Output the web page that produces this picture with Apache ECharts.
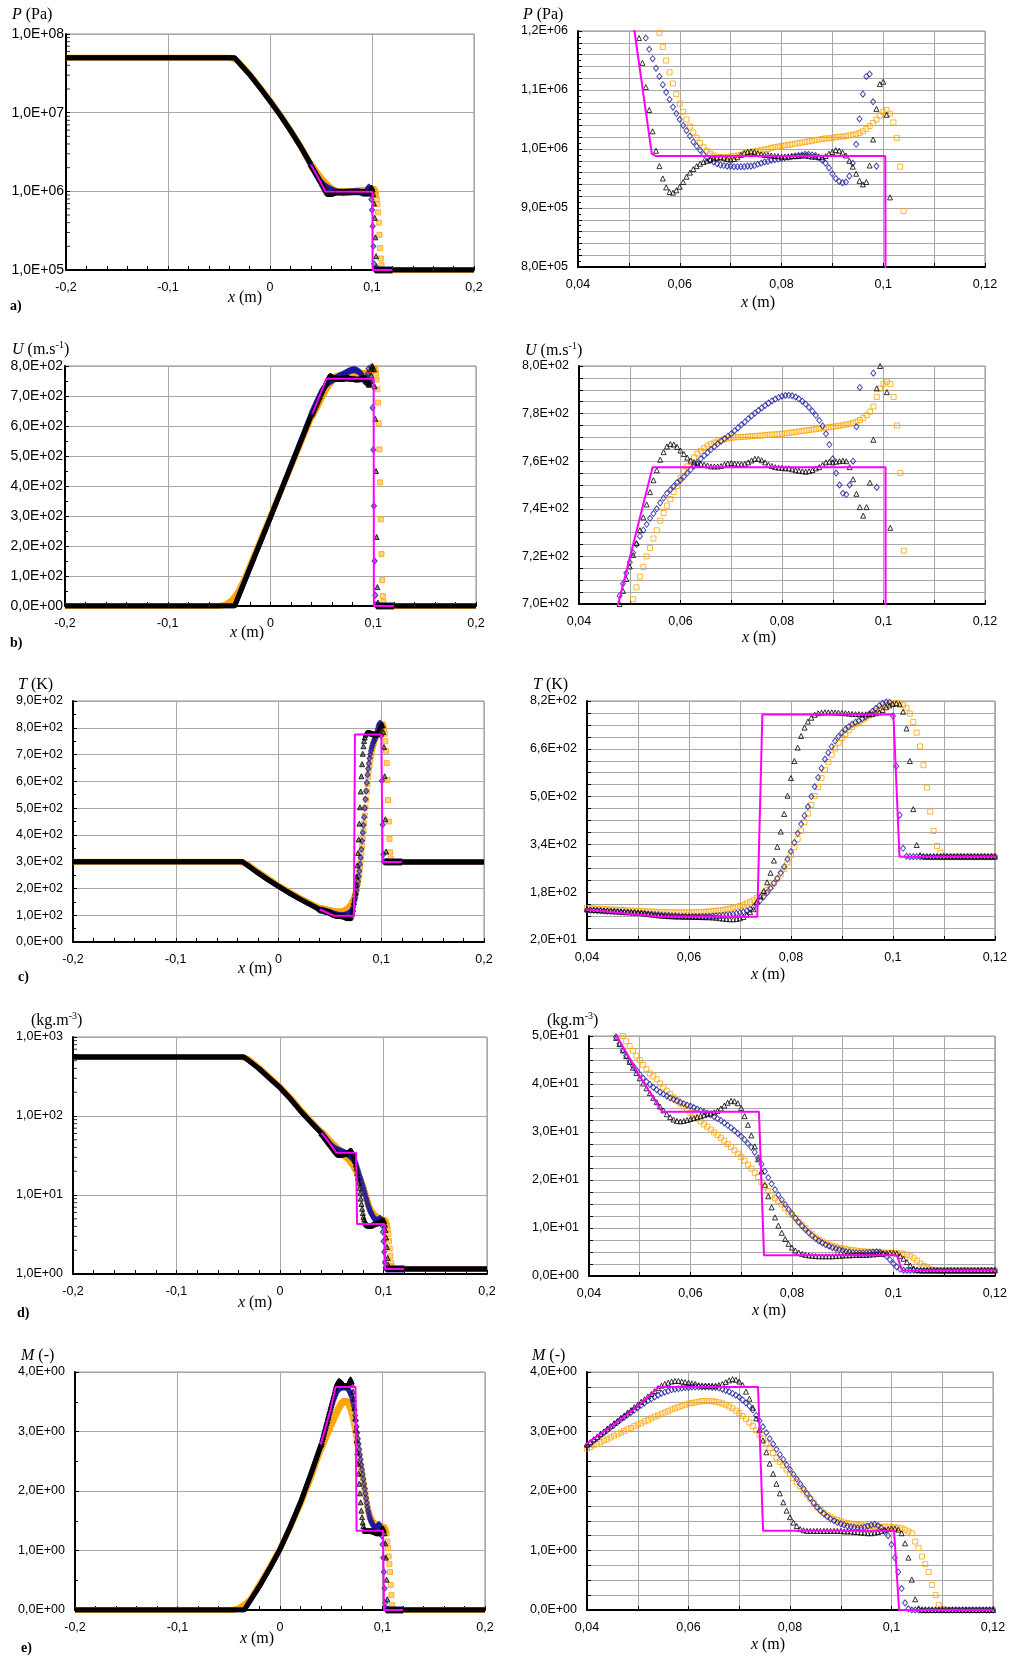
<!DOCTYPE html>
<html><head><meta charset="utf-8">
<script src="https://cdn.jsdelivr.net/npm/echarts@6/dist/echarts.min.js"></script>
<style>html,body{margin:0;padding:0;background:#fff}#c{width:1010px;height:1656px}</style>
</head><body><div id="c"></div>
<script>
// ---------------- DATA ----------------
const X_GRID = [0.04,0.04067,0.04133,0.042,0.04267,0.04333,0.044,0.04467,0.04533,0.046,
0.04667,0.04733,0.048,0.04867,0.04933,0.05,0.05067,0.05133,0.052,0.05267,
0.05333,0.054,0.05467,0.05533,0.056,0.05667,0.05733,0.058,0.05867,0.05933,
0.06,0.06067,0.06133,0.062,0.06267,0.06333,0.064,0.06467,0.06533,0.066,
0.06667,0.06733,0.068,0.06867,0.06933,0.07,0.07067,0.07133,0.072,0.07267,
0.07333,0.074,0.07467,0.07533,0.076,0.07667,0.07733,0.078,0.07867,0.07933,
0.08,0.08067,0.08133,0.082,0.08267,0.08333,0.084,0.08467,0.08533,0.086,
0.08667,0.08733,0.088,0.08867,0.08933,0.09,0.09067,0.09133,0.092,0.09267,
0.09333,0.094,0.09467,0.09533,0.096,0.09667,0.09733,0.098,0.09867,0.09933,
0.1,0.10067,0.10133,0.102,0.10267,0.10333,0.104,0.10467,0.10533,0.106,
0.10667,0.10733,0.108,0.10867,0.10933,0.11,0.11067,0.11133,0.112,0.11267,
0.11333,0.114,0.11467,0.11533,0.116,0.11667,0.11733,0.118,0.11867,0.11933,
0.12];

// Pressure (kPa)
const P_BLACK_KPA = [2240,2170,2100,2030,1960,1900,1830,1770,1710,1650,
1590,1540,1480,1430,1380,1330,1280,1234,1188,1146,
1105,1066,1030,997,971,950,935,927,926,930,
936,944,953,960,966,971,975,978,980,982,
984,985,986,985,983,982,983,986,990,993,
995,996,995,993,991,990,990,989,988,988,
987,987,987,988,988,988,989,989,988,987,
987,986,986,988,992,995,998,997,994,989,
980,970,958,946,940,944,972,1016,1068,1110,
1114,1058,918,700,460,260,150,110,102,100,
100,100,100,100,100,100,100,100,100,100,
100,100,100,100,100,100,100,100,100,100,
100];
const P_BLUE_KPA = [2150,2080,2010,1940,1875,1810,1750,1690,1635,1580,
1530,1485,1440,1398,1360,1325,1292,1262,1235,1210,
1188,1169,1153,1137,1123,1109,1096,1084,1071,1060,
1050,1040,1031,1022,1012,1005,998,991,985,981,
978,975,973,972,971,971,970,970,970,970,
971,971,972,974,976,978,979,981,982,983,
984,985,986,987,988,989,990,991,991,990,
989,986,981,976,968,958,950,945,943,944,
954,976,1008,1051,1093,1123,1127,1080,971,790,
580,360,200,120,103,100,100,100,100,100,
100,100,100,100,100,100,100,100,100,100,
100,100,100,100,100,100,100,100,100,100,
100];
const P_ORANGE_KPA = [2200,2136,2074,2014,1956,1900,1847,1794,1744,1696,
1650,1606,1564,1524,1486,1450,1415,1383,1352,1323,
1295,1268,1243,1220,1197,1173,1150,1130,1111,1093,
1077,1063,1050,1038,1028,1019,1010,1003,997,992,
989,987,986,986,986,987,988,989,990,992,
993,995,996,997,998,999,1000,1002,1003,1004,
1005,1006,1007,1008,1009,1010,1011,1012,1013,1014,
1015,1016,1017,1018,1018,1019,1020,1021,1021,1022,
1023,1024,1025,1027,1030,1034,1039,1044,1050,1057,
1063,1066,1060,1045,1019,970,895,790,690,540,
400,280,190,140,115,103,100,100,100,100,
100,100,100,100,100,100,100,100,100,100,
100];
const P_BAND = [[-0.2,5e7],[-0.0349,5e7],[-0.02,3.05e7],[-0.01,2.09e7],[0,1.41e7],[0.01,9.3e6],[0.02,5.95e6],[0.03,3.7e6]];
const P_BAND_ORANGE = [[-0.2,5e7],[-0.04,5e7],[-0.033,4.7e7],[-0.02,3.1e7],[-0.01,2.12e7],[0,1.43e7],[0.01,9.4e6],[0.02,6.0e6],[0.03,3.72e6]];
const P_EXACT = [[-0.2,5e7],[-0.0349,5e7],[-0.02,3.05e7],[-0.01,2.09e7],[0,1.41e7],[0.01,9.3e6],[0.02,5.95e6],[0.03,3.7e6],[0.04,2.2e6],[0.045,1.69e6],[0.05,1.28e6],[0.0511,1.2e6],[0.0545,9.92e5],[0.0553,9.88e5],[0.1004,9.88e5],[0.1006,1e5],[0.2,1e5]];

// Velocity (m/s)
const U_BLACK = [638,643,648,653,658.5,664,669,674,679,684.5,
690,695,700,705.5,710.5,715.8,720.6,725.6,731,736.4,
741.8,747,752,756.2,760.6,763.8,766.2,767.2,767,766,
764.5,763,761.5,760.3,759.5,759,758.8,758.5,758.2,757.8,
757.8,757.8,758,758.6,759,759.2,759,758.8,758.7,758.9,
759.5,760.3,761,761,760.4,759.5,758.5,758,757.5,757.3,
757.2,757,757,756.6,756.2,756,755.8,755.6,755.8,756.3,
757,757.5,758.5,759.5,759.8,759.5,759.8,760,760.2,760,
757.5,752.4,746.3,740.7,737.1,740.7,751,769,790.6,800,
802,789,732,624,450,230,63,12,2,0,
0,0,0,0,0,0,0,0,0,0,
0,0,0,0,0,0,0,0,0,0,
0];
const U_BLUE = [644,649,654,659,664,669,674,679,684,689,
694,699,703.5,708.5,713,717.5,721.5,725,728.5,731,
733.5,736,738,740,742.5,744.5,746.5,748,749.5,751,
752,753.5,755,756.5,758,759.5,761,762.3,763.6,764.9,
766.1,767.3,768.4,769.5,770.5,771.5,772.8,774,775.3,776.5,
777.8,779,780.2,781.3,782.4,783.4,784.4,785.3,786.1,786.8,
787.3,787.6,787.7,787.5,787,786.2,785.2,784,782.6,781,
779.3,777.2,774.8,771.5,767,761,755,750,746.5,746,
750,760,774.5,791,804,811,807,797,749,661,
521,333,150,36,5,0,0,0,0,0,
0,0,0,0,0,0,0,0,0,0,
0,0,0,0,0,0,0,0,0,0,
0];
const U_ORANGE = [631,635,639,643.5,648,652.5,657,661.5,666,670.5,
675,679.5,684,688.5,693,697.5,702,707,711.5,715.5,
720,723.5,727.5,731,735,738.2,741.3,744.1,747,749.6,
752.9,755.7,757.8,759.8,761.6,763.2,764.4,765.5,766.5,767.2,
767.8,768.3,768.8,769.2,769.5,769.8,770,770.1,770.2,770.3,
770.4,770.5,770.6,770.7,770.8,771,771.1,771.2,771.3,771.4,
771.5,771.7,771.9,772.1,772.3,772.5,772.7,772.9,773.1,773.3,
773.5,773.7,773.9,774.1,774.3,774.5,774.7,774.9,775.1,775.4,
775.7,776.1,776.6,777.3,778.2,779.3,780.8,783,787,790.5,
792.5,793.4,792.5,787,775,755,722.4,678,609,522,
412,289,173,86,33,13,3,0,0,0,
0,0,0,0,0,0,0,0,0,0,
0];
const U_BAND = [[-0.2,0],[-0.0349,0],[0,296]];
const U_BAND_ORANGE = [[-0.2,0],[-0.05,0],[-0.044,4],[-0.038,18],[-0.032,44],[-0.025,92],[0,300]];
const U_EXACT = [[-0.2,0],[-0.0349,0],[0.0545,757.5],[0.1004,757.5],[0.1006,0],[0.2,0]];

// Temperature (K)
const T_BLACK = [122.5,121.8,121,120.3,119.5,118.8,118,117.3,116.5,115.8,
115,114.3,113.5,112.8,112,111.3,110,108.5,107,105.5,
104,102.5,101.5,100.5,99.8,99.2,98.8,98.5,98.2,98,
98,97.7,97.3,97,96.6,96.3,96,95.5,94.5,93,
91.5,90.3,89.5,89.2,90,92.5,97,105,113,123,
148,166,184,213,245,286,332,383,442,503,
562,619,664,703,731,751,764,774,779,781,
782,782,782,781.5,781,780,779,778,777,776,
776,775.5,775.5,775.5,776,779,782,790,799,805,
810,812,809,784,728,619,458,338,304,300,
299,299,299,299,299,299,299,299,299,299,
299,299,299,299,299,299,299,299,299,299,
299];
const T_BLUE = [120,119.5,119,118.3,117.6,117,116.3,115.6,115,114.3,
113.6,113,112.3,111.6,111,110.3,109.3,108.3,107.3,106.3,
105.4,104.5,103.6,102.8,102,101.3,100.7,100.2,99.7,99.3,
99,98.8,98.7,98.7,98.8,99,99.4,100,100.7,101.5,
102.4,103.4,104.5,106.5,109,111.5,114.5,118,122.6,130,
142,153,165,178.5,193,210,226,245,265.5,290,
316,346,377,408,436,466,500,533,564,595,
625,647,667,686,701,714,725,734,742,749,
754,761,767.6,776.5,785.4,795.5,804.4,812,816.7,816,
770,602,438,327,300,299,299,299,299,299,
299,299,299,299,299,299,299,299,299,299,
299,299,299,299,299,299,299,299,299,299,
299];
const T_ORANGE = [127,126.3,125.6,125,124.3,123.6,123,122.3,121.6,121,
120.3,119.6,119,118.5,118,117.5,117,116.4,115.8,115.2,
114.6,114,113.6,113.3,113,112.8,112.7,112.6,112.6,112.6,
112.7,112.9,113.2,113.6,114.1,114.7,115.5,116.5,117.7,119,
120.7,122.6,124.8,127.5,130.5,134,138,142.5,147.5,153,
160,168,177,187,198,210,224,240,258,280,
305,331,358,386,414,443,472,502,532,562,
590,616,640,661,680,696,710,722,733,742,
750,757,764,771,778,786,794,801,806,810,
812,813,811,806,797,778,750,714,668,605,
530,450,385,335,312,301,299,299,299,299,
299,299,299,299,299,299,299,299,299,299,
299];
const T_BAND = [[-0.2,300],[-0.0349,300],[-0.02,258],[-0.01,232],[0,207.5],[0.01,184],[0.02,162],[0.03,141.5]];
const T_BAND_ORANGE = [[-0.2,300],[-0.038,300],[-0.03,290],[-0.02,262],[-0.01,236],[0,211],[0.01,188],[0.02,166],[0.03,146]];
const T_EXACT = [[-0.2,300],[-0.0349,300],[-0.02,258.4],[-0.01,232.2],[0,207.5],[0.01,184.1],[0.02,162.1],[0.03,141.5],[0.04,122.3],[0.05,104.5],[0.0545,98],[0.0734,98],[0.0744,775],[0.1001,775],[0.1013,299],[0.2,299]];

// Density (kg/m3)
const R_BLACK = [61,59.7,58.1,56.6,55.1,53.7,52.3,50.9,49.6,48.3,
47,45.8,44.6,43.4,42.3,41.2,40.1,39.1,38.1,37.1,
36.2,35.3,34.5,33.7,33.1,32.6,32.3,32.2,32.3,32.5,
32.7,32.9,33.1,33.3,33.5,33.7,33.9,34.1,34.4,34.9,
35.5,36.1,36.5,36.4,36,35,33.3,31.5,29.3,27,
24.3,21.8,19,16.6,14.3,12.2,10.5,9,7.7,6.7,
5.9,5.3,4.9,4.6,4.4,4.3,4.2,4.15,4.1,4.1,
4.1,4.1,4.1,4.15,4.2,4.25,4.3,4.3,4.35,4.4,
4.4,4.4,4.4,4.45,4.5,4.55,4.6,4.7,4.75,4.8,
4.8,4.7,4.2,3.6,2.9,2.2,1.6,1.3,1.18,1.16,
1.16,1.16,1.16,1.16,1.16,1.16,1.16,1.16,1.16,1.16,
1.16,1.16,1.16,1.16,1.16,1.16,1.16,1.16,1.16,1.16,
1.16];
const R_BLUE = [61,59.6,58.2,56.8,55.4,54,52.6,51.2,49.8,48.4,
47.1,45.9,44.8,43.8,42.9,42,41.2,40.5,39.9,39.3,
38.8,38.3,37.9,37.5,37.1,36.8,36.5,36.2,35.9,35.6,
35.4,35.1,34.8,34.5,34.2,33.9,33.6,33.2,32.8,32.4,
31.9,31.4,30.9,30.3,29.7,29.1,28.4,27.6,26.8,25.8,
24.6,23.3,21.8,20.5,19.2,18,16.9,15.9,14.9,13.9,
13,12.1,11.2,10.4,9.7,9,8.4,7.8,7.3,6.9,
6.5,6.2,5.9,5.7,5.5,5.3,5.1,5,4.9,4.85,
4.8,4.8,4.85,4.9,5,5.05,4.95,4.6,4.1,3.4,
2.6,1.9,1.4,1.2,1.16,1.16,1.16,1.16,1.16,1.16,
1.16,1.16,1.16,1.16,1.16,1.16,1.16,1.16,1.16,1.16,
1.16,1.16,1.16,1.16,1.16,1.16,1.16,1.16,1.16,1.16,
1.16];
const R_ORANGE = [62.5,61.2,59.9,58.6,57.3,56,54.7,53.5,52.3,51.1,
50,48.9,47.9,46.9,45.9,45,44,43.1,42.2,41.6,
41,40.1,39.3,38.6,37.9,37.2,36.6,35.9,35.3,34.6,
34,33.4,32.8,32.2,31.6,31.1,30.5,29.9,29.4,28.8,
28.2,27.5,26.9,26.2,25.5,24.8,24,23.2,22.4,21.5,
20.6,19.6,18.6,17.7,16.8,16.2,15.6,14.9,14.1,13.4,
12.7,12,11.3,10.6,10,9.3,8.7,8.1,7.6,7.2,
6.8,6.5,6.3,6.1,5.9,5.75,5.6,5.5,5.4,5.3,
5.2,5.15,5.1,5.05,5,4.95,4.9,4.9,4.85,4.85,
4.8,4.75,4.7,4.6,4.4,4.1,3.7,3.2,2.6,2.1,
1.7,1.4,1.25,1.18,1.16,1.16,1.16,1.16,1.16,1.16,
1.16,1.16,1.16,1.16,1.16,1.16,1.16,1.16,1.16,1.16,
1.16];
const R_BAND = [[-0.2,560],[-0.0349,560],[-0.02,395],[-0.01,300],[0,228],[0.01,165],[0.02,115],[0.03,83]];
const R_BAND_ORANGE = [[-0.2,560],[-0.038,560],[-0.03,520],[-0.02,405],[-0.01,308],[0,234],[0.01,170],[0.02,119],[0.03,86]];
const R_EXACT = [[-0.2,560],[-0.0349,560],[-0.02,395],[-0.01,300],[0,228],[0.01,165],[0.02,115],[0.03,83],[0.04,61.5],[0.045,50.9],[0.05,41.6],[0.0544,34.2],[0.0735,34.2],[0.0745,4.3],[0.1007,4.3],[0.1017,1.16],[0.2,1.16]];

// Mach number
const M_BLACK = [2.78,2.82,2.87,2.91,2.96,3,3.05,3.09,3.14,3.18,
3.23,3.27,3.32,3.36,3.41,3.45,3.5,3.54,3.59,3.63,
3.68,3.73,3.77,3.8,3.82,3.84,3.85,3.85,3.84,3.83,
3.82,3.81,3.8,3.78,3.77,3.77,3.77,3.77,3.77,3.78,
3.8,3.83,3.86,3.88,3.87,3.84,3.78,3.67,3.55,3.4,
3.22,3.03,2.85,2.65,2.46,2.29,2.12,1.96,1.81,1.67,
1.56,1.47,1.41,1.36,1.34,1.33,1.33,1.33,1.33,1.33,
1.33,1.33,1.33,1.33,1.33,1.33,1.32,1.32,1.32,1.31,
1.31,1.3,1.3,1.29,1.29,1.3,1.31,1.33,1.35,1.36,
1.37,1.37,1.35,1.29,1.12,0.88,0.51,0.18,0.03,0,
0,0,0,0,0,0,0,0,0,0,
0,0,0,0,0,0,0,0,0,0,
0];
const M_BLUE = [2.76,2.8,2.85,2.89,2.94,2.98,3.02,3.07,3.11,3.15,
3.2,3.24,3.28,3.32,3.36,3.4,3.44,3.48,3.52,3.55,
3.58,3.61,3.64,3.66,3.68,3.7,3.71,3.72,3.73,3.74,
3.74,3.75,3.75,3.75,3.75,3.75,3.75,3.74,3.74,3.73,
3.71,3.69,3.67,3.64,3.61,3.58,3.53,3.48,3.43,3.36,
3.27,3.18,3.08,2.98,2.88,2.79,2.7,2.61,2.53,2.44,
2.36,2.28,2.2,2.12,2.04,1.96,1.88,1.8,1.73,1.67,
1.62,1.57,1.53,1.5,1.47,1.45,1.43,1.41,1.4,1.39,
1.38,1.38,1.39,1.41,1.43,1.44,1.42,1.38,1.32,1.25,
1.1,0.88,0.64,0.36,0.12,0.02,0,0,0,0,
0,0,0,0,0,0,0,0,0,0,
0,0,0,0,0,0,0,0,0,0,
0];
const M_ORANGE = [2.71,2.74,2.77,2.79,2.82,2.85,2.87,2.9,2.93,2.96,
2.98,3.01,3.04,3.06,3.09,3.12,3.14,3.17,3.19,3.22,
3.25,3.27,3.3,3.32,3.34,3.37,3.39,3.41,3.43,3.45,
3.47,3.48,3.49,3.5,3.51,3.51,3.51,3.51,3.5,3.49,
3.47,3.45,3.42,3.39,3.35,3.31,3.26,3.21,3.15,3.09,
3.02,2.95,2.88,2.8,2.72,2.64,2.56,2.49,2.43,2.36,
2.29,2.22,2.15,2.08,2.01,1.94,1.87,1.8,1.73,1.68,
1.63,1.59,1.56,1.53,1.51,1.49,1.47,1.46,1.45,1.44,
1.43,1.42,1.42,1.41,1.41,1.4,1.4,1.4,1.4,1.4,
1.39,1.39,1.38,1.37,1.35,1.32,1.29,1.15,1.04,0.9,
0.77,0.64,0.42,0.25,0.08,0.02,0,0,0,0,
0,0,0,0,0,0,0,0,0,0,
0];
const M_BAND = [[-0.2,0],[-0.0349,0],[-0.02,0.4],[-0.01,0.7],[0,1.02],[0.01,1.4],[0.02,1.81],[0.03,2.28]];
const M_BAND_ORANGE = [[-0.2,0],[-0.046,0],[-0.04,0.03],[-0.034,0.1],[-0.028,0.2],[-0.02,0.43],[-0.01,0.72],[0,1.03],[0.01,1.39],[0.02,1.78],[0.03,2.22]];
const M_EXACT = [[-0.2,0],[-0.0349,0],[-0.02,0.4],[-0.01,0.7],[0,1.02],[0.01,1.4],[0.02,1.81],[0.03,2.28],[0.04,2.8],[0.045,3.1],[0.05,3.42],[0.0542,3.75],[0.0737,3.75],[0.0747,1.33],[0.1005,1.33],[0.1015,0],[0.2,0]];

const LOG_MINOR_MANTISSAS = [2,3,4,5,6,7,8,9];

// ---------------- STYLE / LAYOUT ----------------
const COL = {blue:'#1a1aa0', black:'#000000', orange:'#ffa500', exact:'#ff00ff', grid:'#a8a8a8'};
const FILL = {blue:'rgba(26,26,160,0.6)', black:'rgba(0,0,0,0.6)', orange:'rgba(255,165,0,0.6)'};
const SYM = {orange:{symbol:'rect', size:5}, blue:{symbol:'diamond', size:[5,6]}, black:{symbol:'triangle', size:5}};
const SANS = 'Liberation Sans', SERIF = 'Liberation Serif';

function sci(v){
  if (Math.abs(v) < 1e-12) return '0,0E+00';
  let e = Math.floor(Math.log10(Math.abs(v)) + 1e-9);
  let m = v / Math.pow(10, e);
  if (Math.round(m*10)/10 >= 10) { m /= 10; e += 1; }
  return m.toFixed(1).replace('.', ',') + 'E' + (e < 0 ? '-' : '+') + String(Math.abs(e)).padStart(2, '0');
}
function isMult(v, base, step){ const q = (v - base) / step; return Math.abs(q - Math.round(q)) < 1e-6; }
function fmtXL(v){ const r = Math.round(v*10)/10; return r === 0 ? '0' : String(r).replace('.', ','); }
function fmtXR(v){ const k = Math.round(v*100); return k % 2 === 0 ? String(k/100).replace('.', ',') : ''; }

const PANELS = [
  { ys:{orange:P_ORANGE_KPA, blue:P_BLUE_KPA, black:P_BLACK_KPA}, k:1000, exact:P_EXACT, band:P_BAND, bandO:P_BAND_ORANGE, tail:1e5,
    L:{box:[66,34,408,236], log:true, min:1e5, max:1e8, decades:[1e5,1e6,1e7], fs:14, margin:2},
    R:{box:[578,31,407,236], min:8e5, max:1.2e6, interval:2e4, labBase:0, labStep:1e5, minor:2} },
  { ys:{orange:U_ORANGE, blue:U_BLUE, black:U_BLACK}, k:1, exact:U_EXACT, band:U_BAND, bandO:U_BAND_ORANGE, tail:0,
    L:{box:[65,366,411,240], min:0, max:800, interval:100, fs:14, margin:2, minor:2},
    R:{box:[579,366,406,238], min:700, max:800, interval:5, labBase:700, labStep:20} },
  { ys:{orange:T_ORANGE, blue:T_BLUE, black:T_BLACK}, k:1, exact:T_EXACT, band:T_BAND, bandO:T_BAND_ORANGE, tail:299,
    L:{box:[73,701,411,241], min:0, max:900, interval:100, fs:12.5, margin:10, minor:2},
    R:{box:[587,701,410,239], min:20, max:820, interval:40, labBase:20, labStep:160} },
  { ys:{orange:R_ORANGE, blue:R_BLUE, black:R_BLACK}, k:1, exact:R_EXACT, band:R_BAND, bandO:R_BAND_ORANGE, tail:1.16,
    L:{box:[73,1037,414,237], log:true, min:1, max:1000, decades:[1,10,100], fs:12.5, margin:10},
    R:{box:[589,1036,408,240], min:0, max:50, interval:2.5, labBase:0, labStep:10} },
  { ys:{orange:M_ORANGE, blue:M_BLUE, black:M_BLACK}, k:1, exact:M_EXACT, band:M_BAND, bandO:M_BAND_ORANGE, tail:0,
    L:{box:[75,1372,410,238], min:0, max:4, interval:1, fs:12.5, margin:10, minor:2},
    R:{box:[587,1372,406,238], min:0, max:4, interval:0.25, labBase:0, labStep:1} }
];

const grids = [], xAxes = [], yAxes = [], series = [];
function addGrid(box){
  grids.push({left:box[0], top:box[1], width:box[2], height:box[3], show:true, borderColor:'#8f8f8f', borderWidth:1, containLabel:false});
  return grids.length - 1;
}
function xAxisFor(gi, right){
  return { type:'value', gridIndex:gi, min: right?0.04:-0.2, max: right?0.12:0.2, interval: right?0.01:0.1,
    axisLine:{onZero:false, lineStyle:{color:'#000', width:2}},
    axisTick:{show:true, inside:true, length:4, lineStyle:{color:'#000'}},
    minorTick: right ? {show:false} : {show:true, splitNumber:5, length:4, lineStyle:{color:'#000'}},
    splitLine:{show:true, lineStyle:{color:COL.grid, width:1}},
    axisLabel:{fontFamily:SANS, fontSize:12.5, color:'#000', margin:11, showMinLabel:true, showMaxLabel:true, formatter: right?fmtXR:fmtXL} };
}
function yAxisFor(gi, c, right){
  const ax = { gridIndex:gi, min:c.min, max:c.max,
    axisLine:{onZero:false, lineStyle:{color:'#000', width:2}},
    axisTick:{show:true, inside:true, length:4, lineStyle:{color:'#000'}},
    splitLine:{show:true, lineStyle:{color:COL.grid, width:1}},
    axisLabel:{fontFamily:SANS, fontSize: right?12.5:c.fs, color:'#000', margin: right?10:c.margin, showMinLabel:true, showMaxLabel:true} };
  if (c.log) { ax.type = 'log'; ax.logBase = 10; ax.axisLabel.formatter = sci; }
  else {
    ax.type = 'value'; ax.interval = c.interval;
    if (right) ax.axisLabel.formatter = v => isMult(v, c.labBase, c.labStep) ? sci(v) : '';
    else ax.axisLabel.formatter = sci;
    if (c.minor) ax.minorTick = {show:true, splitNumber:c.minor, length:3, lineStyle:{color:'#000'}};
  }
  return ax;
}
function hollow(s){ return {color:'rgba(255,255,255,0)', borderColor:COL[s], borderWidth:1}; }
function dense(s){ return {color:FILL[s], borderColor:COL[s], borderWidth:1}; }

PANELS.forEach(P => {
  // ---- left (full domain) ----
  let gi = addGrid(P.L.box);
  xAxes.push(xAxisFor(gi, false)); yAxes.push(yAxisFor(gi, P.L, false));
  series.push({type:'line', xAxisIndex:gi, yAxisIndex:gi, data:P.exact, showSymbol:false, silent:true,
    lineStyle:{color:COL.exact, width:2}, clip:true});
  ['orange','blue','black'].forEach(s => {
    const pts = X_GRID.map((x,i) => [x, P.ys[s][i]*P.k]);
    const band = (s === 'orange' ? P.bandO : P.band).concat([pts[0]]);
    const lw = s === 'orange' ? 6 : 5;
    series.push({type:'line', xAxisIndex:gi, yAxisIndex:gi, data:band, showSymbol:false, silent:true, lineStyle:{color:COL[s], width:lw}, clip:true});
    series.push({type:'line', xAxisIndex:gi, yAxisIndex:gi, data:[pts[pts.length-1], [0.2, P.tail]], showSymbol:false, silent:true, lineStyle:{color:COL[s], width:lw}, clip:true});
    series.push({type:'scatter', xAxisIndex:gi, yAxisIndex:gi, data:pts, symbol:SYM[s].symbol, symbolSize:SYM[s].size, itemStyle:dense(s), silent:true, clip:true});
  });
  if (P.L.log) {
    const ticks = [];
    P.L.decades.forEach(d => LOG_MINOR_MANTISSAS.forEach(m => ticks.push([-0.2, d*m])));
    series.push({type:'scatter', xAxisIndex:gi, yAxisIndex:gi, data:ticks, symbol:'rect', symbolSize:[4,1], symbolOffset:[2,0], itemStyle:{color:'#000'}, silent:true, clip:false, z:5});
  }
  // ---- right (zoom) ----
  gi = addGrid(P.R.box);
  xAxes.push(xAxisFor(gi, true)); yAxes.push(yAxisFor(gi, P.R, true));
  ['orange','blue','black'].forEach(s => {
    const pts = X_GRID.map((x,i) => [x, P.ys[s][i]*P.k]);
    series.push({type:'scatter', xAxisIndex:gi, yAxisIndex:gi, data:pts, symbol:SYM[s].symbol, symbolSize:SYM[s].size, itemStyle:hollow(s), silent:true, clip:true});
  });
  series.push({type:'line', xAxisIndex:gi, yAxisIndex:gi, data:P.exact, showSymbol:false, silent:true, lineStyle:{color:COL.exact, width:2}, clip:true, z:4});
});

// ---------------- TEXT ----------------
const RICH = { i:{fontStyle:'italic', fontFamily:SERIF, fontSize:16, fill:'#000'},
               s:{fontFamily:SERIF, fontSize:10, fill:'#000', padding:[0,0,10,0]} };
function txt(x, y, text, align, extra){
  return {type:'text', x, y, silent:true, z:10,
    style:Object.assign({text, fontFamily:SERIF, fontSize:16, fill:'#000', align:align||'left', verticalAlign:'middle', rich:RICH}, extra||{})};
}
const Y_TITLES = ['{i|P} (Pa)', '{i|U} (m.s{s|-1})', '{i|T} (K)', '(kg.m{s|-3})', '{i|M} (-)'];
const graphics = [
  txt(12,15,Y_TITLES[0]), txt(523,15,Y_TITLES[0]),
  txt(12,350,Y_TITLES[1]), txt(525,351,Y_TITLES[1]),
  txt(18,685,Y_TITLES[2]), txt(533,685,Y_TITLES[2]),
  txt(31,1021,Y_TITLES[3]), txt(547,1021,Y_TITLES[3]),
  txt(21,1356,Y_TITLES[4]), txt(532,1356,Y_TITLES[4]),
  txt(245,298,'{i|x} (m)','center'), txt(758,303,'{i|x} (m)','center'),
  txt(247,633,'{i|x} (m)','center'), txt(759,638,'{i|x} (m)','center'),
  txt(255,969,'{i|x} (m)','center'), txt(768,975,'{i|x} (m)','center'),
  txt(255,1303,'{i|x} (m)','center'), txt(769,1311,'{i|x} (m)','center'),
  txt(257,1639,'{i|x} (m)','center'), txt(768,1645,'{i|x} (m)','center'),
  txt(10,306,'a)','left',{fontWeight:'bold',fontSize:14}),
  txt(10,643,'b)','left',{fontWeight:'bold',fontSize:14}),
  txt(18,977,'c)','left',{fontWeight:'bold',fontSize:14}),
  txt(17,1313,'d)','left',{fontWeight:'bold',fontSize:14}),
  txt(21,1648,'e)','left',{fontWeight:'bold',fontSize:14})
];

const chart = echarts.init(document.getElementById('c'), null, {renderer:'canvas', width:1010, height:1656});
chart.setOption({
  animation:false,
  backgroundColor:'#ffffff',
  grid:grids, xAxis:xAxes, yAxis:yAxes, series:series, graphic:graphics
});
</script></body></html>
